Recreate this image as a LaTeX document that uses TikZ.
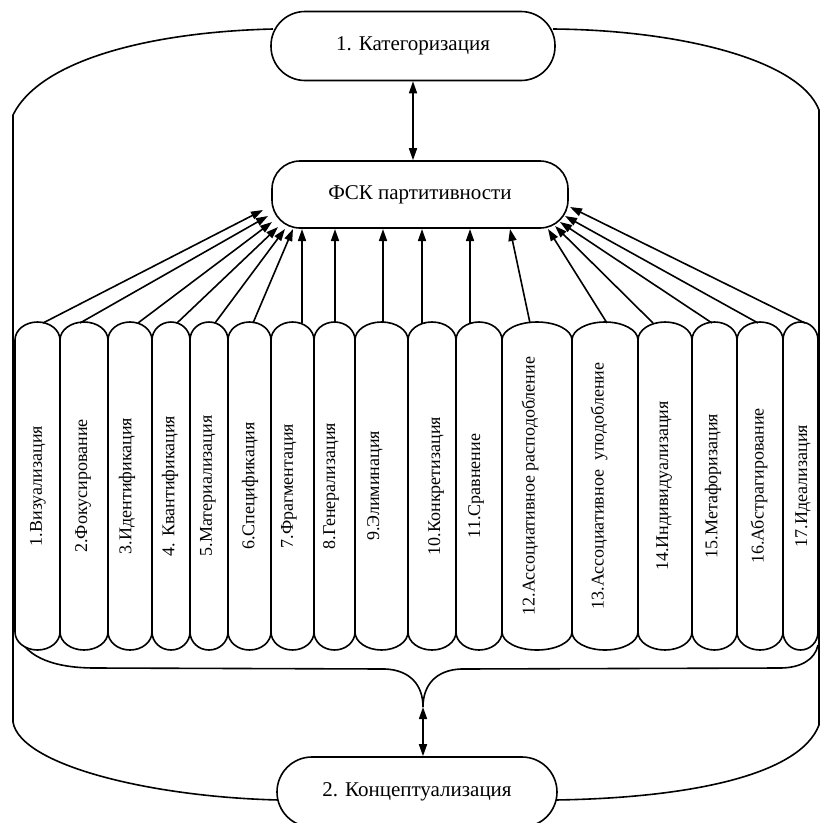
\documentclass[tikz,border=0pt]{standalone}
\usepackage{fontspec}
\setmainfont{Liberation Serif}
\usetikzlibrary{arrows.meta}
\begin{document}
\begin{tikzpicture}[x=1pt,y=-1pt,line width=1.6pt,
  tip/.style={-{Triangle[length=12pt,width=8pt]}},
  dtip/.style={{Triangle[length=12pt,width=8pt]}-{Triangle[length=12pt,width=8pt]}},
  stad/.style={draw,line width=1.6pt,fill=white,inner sep=0pt,font=\fontsize{21}{24}\selectfont},
  boxtext/.style={rotate=90,inner sep=0pt,font=\fontsize{18}{20}\selectfont}]
\useasboundingbox (0,0) rectangle (821,823);
% outer frame
\draw (273,29) .. controls (150,32) and (40,60) .. (13,115) -- (13,722)
      .. controls (20,765) and (150,797) .. (279,800);
\draw (553,29) .. controls (680,30) and (800,60) .. (819,110) -- (819,725)
      .. controls (800,775) and (690,798) .. (555,800);
% inner bracket
\draw (17,632) .. controls (25,660) and (60,668) .. (95,668) -- (385,669)
      .. controls (410,670) and (423,685) .. (423,707)
      .. controls (423,685) and (436,670) .. (461,669) -- (780,668)
      .. controls (800,668) and (815,660) .. (818,645);
\coordinate (apex) at (423,707);
% nodes
\node[stad,minimum width=284pt,minimum height=69pt,rounded corners=34pt] (cat) at (413,46) {1. Категоризация};
\node[stad,minimum width=296pt,minimum height=67pt,rounded corners=28pt] (fsk) at (420,194.5) {ФСК партитивности};
\node[stad,minimum width=280pt,minimum height=70pt,rounded corners=35pt] (con) at (417,792) {2. Концептуализация};
\draw[dtip] (cat.south) -- (cat.south|-fsk.north);
\draw[dtip] (apex) -- (apex|-con.north);
% boxes
\foreach \i/\a/\b/\c/\t in {1/15/60/38/{1.Визуализация},2/60/108/83/{2.Фокусирование},3/108/152/127/{3.Идентификация},
  4/152/190/170/{4. Квантификация},5/190/228/208/{5.Материализация},6/228/271/250/{6.Спецификация},
  7/271/314/289/{7.Фрагментация},8/314/355/331/{8.Генерализация},9/355/408/375/{9.Элиминация},
  10/408/456/436/{10.Конкретизация},11/456/502/476/{11.Сравнение},12/502/572/530/{12.Ассоциативное расподобление},
  13/572/638/599/{13.Ассоциативное\ \ уподобление},14/638/692/664/{14.Индивидуализация},15/692/737/713/{15.Метафоризация},
  16/737/783/759/{16.Абстрагирование},17/783/818/803/{17.Идеализация}}{
  \pgfmathsetmacro{\r}{(\b-\a)/2}
  \draw[fill=white] (\a,340) arc[start angle=180,end angle=360,x radius=\r,y radius=18]
     -- (\b,632) arc[start angle=0,end angle=180,x radius=\r,y radius=18] -- cycle;
  \node[boxtext] (b\i) at (\c,486) {\t};
}
% arrows from box tops to ФСК
\foreach \i/\s/\x/\y in {1/43/263/210,2/80/268/216,3/138/272/222,4/177/278/227,5/215/285/229,6/253/293/229,
  7/302/302/229,8/335/335/229,9/383/383/229,10/422/422/229,11/470/470/229,12/530/510/229,
  13/607/548/229,14/653/555/226,15/712/560/222,16/758/565/216,17/805/570/207}{
  \coordinate (top\i) at (\s,323);
  \coordinate (e\i) at (\x,\y);
  \draw[tip] (top\i) -- (e\i);
}
\end{tikzpicture}
\end{document}
